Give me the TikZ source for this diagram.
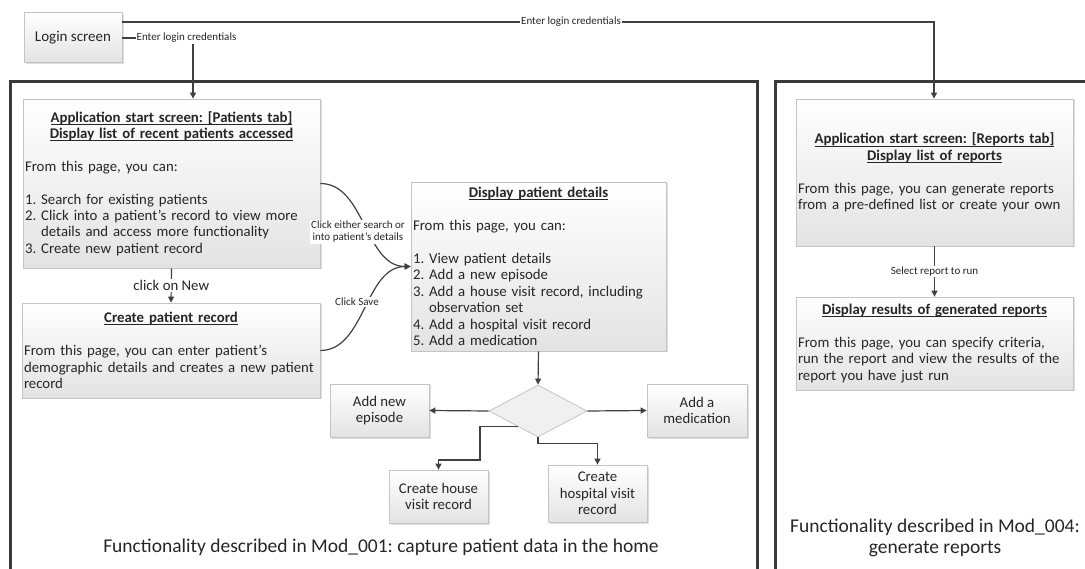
\documentclass[tikz,border=0pt]{standalone}
\usepackage{fontspec}
\setmainfont{Carlito}
\usetikzlibrary{arrows.meta,shapes.geometric,shadows,calc}
\setlength{\parindent}{0pt}
\frenchspacing
\hyphenpenalty=10000

\definecolor{txt}{RGB}{38,38,38}
\definecolor{linec}{RGB}{64,64,64}
\definecolor{framec}{RGB}{58,58,58}
\definecolor{boxborder}{RGB}{196,196,196}
\definecolor{boxbottom}{RGB}{227,227,227}
\definecolor{diafill}{RGB}{240,240,240}

\newcommand\bodyfont{\fontsize{14.8}{16.4}\selectfont}
\newcommand\smallfont{\fontsize{11}{12.5}\selectfont}
\newcommand\capfont{\fontsize{19.5}{21}\selectfont}
\newcommand\gap{\par\vspace{16.4pt}}
% underline at a fixed depth below the baseline
\newcommand\ulx[1]{\leavevmode\setbox0=\hbox{#1}\rlap{\rule[-2.4pt]{\wd0}{0.8pt}}\box0}
% continuation line of a numbered item, indented past its number
\newcommand\cont[2]{\leavevmode\setbox2=\hbox{#1\ }\hbox{\kern\wd2 #2}}

\begin{document}
\begin{tikzpicture}[x=1pt,y=-1pt,
  box/.style={draw=boxborder, line width=0.8pt, top color=white, bottom color=boxbottom,
    drop shadow={shadow xshift=1.5pt, shadow yshift=-1.5pt, opacity=0.25},
    inner sep=2pt, text=txt, font=\bodyfont},
  smallbox/.style={box, minimum width=99pt, minimum height=53pt, align=center},
  conn/.style={draw=linec, line width=1.2pt, -{Triangle[length=6pt,width=6pt]}},
  lbl/.style={fill=white, inner sep=1pt, text=txt, font=\smallfont},
  frame/.style={draw=framec, line width=3pt},
  caption/.style={text=txt, font=\capfont, align=center}]

\useasboundingbox (0,0) rectangle (1085,569);
\clip (0,0) rectangle (1085,569);

% module frames
\draw[frame] (10,82) rectangle (757,620);
\draw[frame] (775,82) rectangle (1120,620);

% login
\node[box, minimum width=98pt, minimum height=50pt, font=\fontsize{15}{17}\selectfont] (login) at (73,37.5) {Login screen};

% patients module
\node[box, minimum width=297pt, minimum height=169pt, text width=293pt] (app1) at (171.5,183.5) {%
  {\centering\bfseries\ulx{Application start screen: [Patients tab]}\\
   \ulx{Display list of recent patients accessed}\par}
  \vspace{16.4pt}\raggedright
  From this page, you can:\gap
  1. Search for existing patients\\
  2. Click into a patient’s record to view more\\
  \cont{2.}{details and access more functionality}\\
  3. Create new patient record};

\node[box, minimum width=298pt, minimum height=95pt, text width=294pt] (create) at (171,350.5) {%
  {\centering\bfseries\ulx{Create patient record}\par}
  \vspace{16.4pt}\raggedright
  From this page, you can enter patient’s\\
  demographic details and creates a new patient\\
  record};

\node[box, minimum width=255pt, minimum height=169pt, text width=251pt] (disp) at (538.5,266.5) {%
  {\centering\bfseries\ulx{Display patient details}\par}
  \vspace{16.4pt}\raggedright
  From this page, you can:\gap
  1. View patient details\\
  2. Add a new episode\\
  3. Add a house visit record, including\\
  \cont{3.}{observation set}\\
  4. Add a hospital visit record\\
  5. Add a medication};

\node[diamond, draw=boxborder, fill=diafill, line width=0.8pt, inner sep=0pt,
  minimum width=98pt, minimum height=52pt] (dia) at (538,411) {};

\node[smallbox] (episode) at (379.5,410.5) {Add new\\episode};
\node[smallbox, minimum width=100pt] (med) at (697,410.5) {Add a\\medication};
\node[smallbox] (house) at (438.5,496.5) {Create house\\visit record};
\node[smallbox, minimum height=57pt] (hosp) at (597.5,493.5) {Create\\hospital visit\\record};

\node[caption] (cap1) at (381,547) {Functionality described in Mod\_001: capture patient data in the home};

% reports module
\node[box, minimum width=277pt, minimum height=147pt, text width=273pt] (app2) at (934.5,172.5) {%
  {\centering\bfseries\ulx{Application start screen: [Reports tab]}\\
   \ulx{Display list of reports}\par}
  \vspace{16.4pt}\raggedright
  From this page, you can generate reports\\
  from a pre-defined list or create your own};

\node[box, minimum width=277pt, minimum height=93pt, text width=273pt] (res) at (934.5,343.5) {%
  {\centering\bfseries\ulx{Display results of generated reports}\par}
  \vspace{16.4pt}\raggedright
  From this page, you can specify criteria,\\
  run the report and view the results of the\\
  report you have just run};

\node[caption] (cap2) at (935,538) {Functionality described in Mod\_004:\\generate reports};

% connectors
\coordinate (j1) at (193,38);
\draw[conn] (login.east |- j1) -- (j1) -- (j1 |- app1.north);
\node[lbl] at (186.5,38) {Enter login credentials};

\coordinate (j2) at (934,22);
\draw[conn] (login.east |- j2) -- (j2) -- (j2 |- app2.north);
\node[lbl] at (571,22) {Enter login credentials};

\draw[conn] (app1.south) -- node[lbl, font=\bodyfont] {click on New} (create.north);

\draw[conn] (app1.east) .. controls (365,183.5) and (365,266.5) .. (disp.west);
\node[lbl, align=center, font=\fontsize{11}{12}\selectfont] at (358,232) {Click either search or\\into patient’s details};

\draw[conn] (create.east) .. controls (365,350.5) and (365,266.5) .. (disp.west);
\node[lbl] at (357,302) {Click Save};

\draw[conn] (disp.south) -- (dia.north);
\draw[conn] (dia.west) -- (episode.east);
\draw[conn] (dia.east) -- (med.west);

\coordinate (dh) at ($(dia.west)!0.59!(dia.south)$);
\coordinate (k1) at (480,460);
\draw[conn] (dh) -| (k1) -| (house.north);
\draw[conn] (dia.south) -- ++(0,6) -| (hosp.north);

\draw[conn] (app2.south) -- node[lbl] {Select report to run} (res.north);

\end{tikzpicture}
\end{document}
